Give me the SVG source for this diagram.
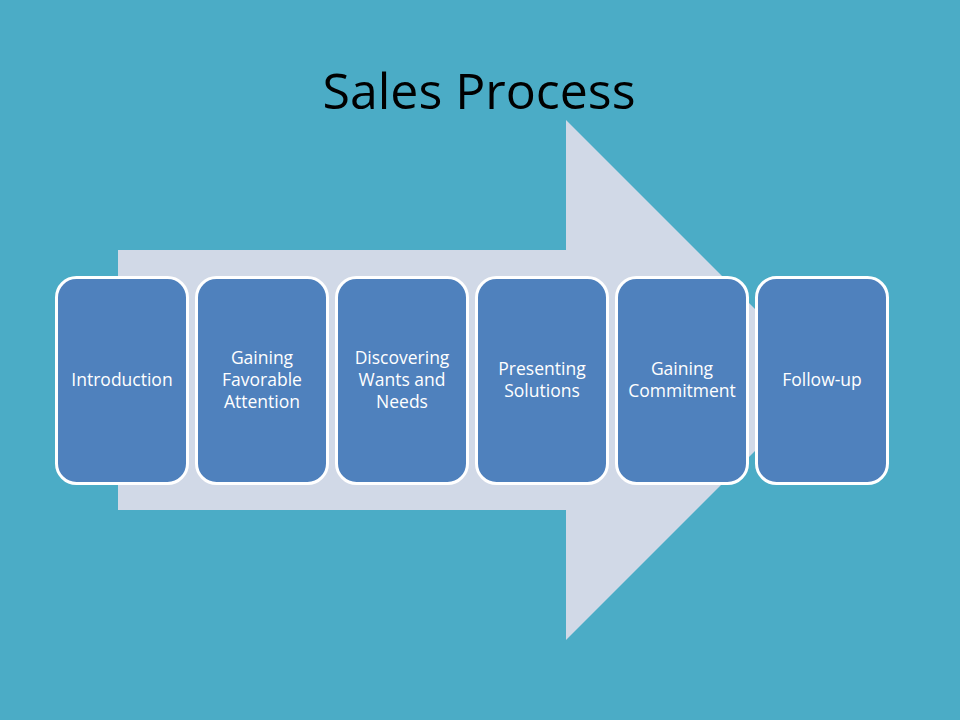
<svg xmlns="http://www.w3.org/2000/svg" width="960" height="720" viewBox="0 0 960 720">
<style>
.box{fill:#4F81BD;stroke:#FFFFFF;stroke-width:3}
.lbl{fill:#FFFFFF;font-family:"Open Sans","Liberation Sans",sans-serif;font-size:17.5px;text-anchor:middle}
.title{fill:#000000;font-family:"Open Sans","Liberation Sans",sans-serif;font-size:50px;text-anchor:middle}
</style>
<rect x="0" y="0" width="960" height="720" fill="#4BACC6"/>
<text class="title" x="479" y="109">Sales Process</text>
<polygon id="arrow" points="118,250 566,250 566,120 826,380 566,640 566,510 118,510" fill="#D1D9E7"/>
<g id="connectors"></g>
<g id="n1"><rect class="box" x="56.5" y="277.5" width="131" height="206" rx="20"/><text class="lbl" x="122" y="386">Introduction</text></g>
<g id="n2"><rect class="box" x="196.5" y="277.5" width="131" height="206" rx="20"/><text class="lbl" x="262" y="364">Gaining</text><text class="lbl" x="262" y="386">Favorable</text><text class="lbl" x="262" y="408">Attention</text></g>
<g id="n3"><rect class="box" x="336.5" y="277.5" width="131" height="206" rx="20"/><text class="lbl" x="402" y="364">Discovering</text><text class="lbl" x="402" y="386">Wants and</text><text class="lbl" x="402" y="408">Needs</text></g>
<g id="n4"><rect class="box" x="476.5" y="277.5" width="131" height="206" rx="20"/><text class="lbl" x="542" y="375">Presenting</text><text class="lbl" x="542" y="397">Solutions</text></g>
<g id="n5"><rect class="box" x="616.5" y="277.5" width="131" height="206" rx="20"/><text class="lbl" x="682" y="375">Gaining</text><text class="lbl" x="682" y="397">Commitment</text></g>
<g id="n6"><rect class="box" x="756.5" y="277.5" width="131" height="206" rx="20"/><text class="lbl" x="822" y="386">Follow-up</text></g>
</svg>
